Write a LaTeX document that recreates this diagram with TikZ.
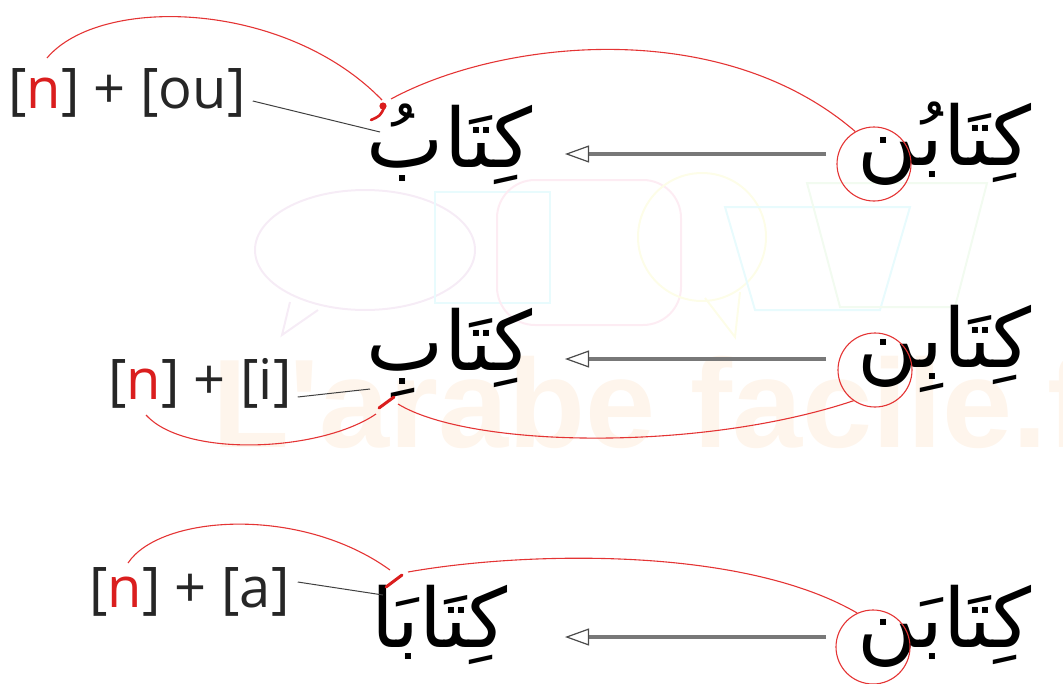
\documentclass[tikz,border=0pt]{standalone}
\usepackage{fontspec}
\setmainfont{Open Sans}
\newfontfamily\arabicfont[Script=Arabic]{DejaVu Sans}
\newfontfamily\wmfont{Liberation Sans}
\TeXXeTstate=1
\usetikzlibrary{arrows.meta}
\definecolor{redline}{RGB}{228,52,52}
\definecolor{nred}{RGB}{218,30,30}
\definecolor{convgray}{RGB}{120,120,120}
\definecolor{wmorange}{RGB}{254,245,236}
\definecolor{wmpink}{RGB}{246,236,246}
\definecolor{wmcyan}{RGB}{232,251,253}
\definecolor{wmrose}{RGB}{253,236,243}
\definecolor{wmyellow}{RGB}{253,253,232}
\definecolor{wmgreen}{RGB}{242,251,240}
\begin{document}
\begin{tikzpicture}[x=1pt,y=-1pt,
  arword/.style={font=\arabicfont\fontsize{82}{88}\selectfont, inner sep=0pt, anchor=base east},
  lbl/.style={font=\fontsize{56}{60}\selectfont, inner sep=0pt, anchor=base west, text=black!85},
  redcurve/.style={draw=redline, line width=1.1pt},
  redmark/.style={draw=nred, line width=3pt, line cap=round},
  pointer/.style={draw=black!75, line width=1pt},
  nuncircle/.style={draw=redline, line width=1.1pt, circle, minimum size=74pt, inner sep=0pt},
  conv/.style={draw=convgray, line width=3.5pt,
    -{Triangle[open, length=24pt, width=17pt, line width=1.2pt, color=black!70]}},
  wm/.style={line width=2pt}
]
\useasboundingbox (0,0) rectangle (1063,683);
% faint watermark
\begin{scope}
  \draw[wm, wmpink] (365,250) ellipse [x radius=110, y radius=60];
  \draw[wm, wmpink] (290,302) -- (282,335) -- (318,310);
  \draw[wm, wmcyan] (435,192) rectangle (550,303);
  \draw[wm, wmrose, rounded corners=38] (497,180) rectangle (681,325);
  \draw[wm, wmyellow] (702,237) ellipse [x radius=64, y radius=64];
  \draw[wm, wmyellow] (705,298) -- (735,337) -- (740,292);
  \draw[wm, wmcyan] (725,207) -- (910,207) -- (880,310) -- (755,310) -- cycle;
  \draw[wm, wmgreen] (807,183) -- (987,183) -- (955,307) -- (840,307) -- cycle;
  \node[font=\wmfont\bfseries\fontsize{126}{130}\selectfont, text=wmorange, anchor=base west, inner sep=0pt] (wmtext) at (212,447) {L'arabe facile.fr};
\end{scope}

% ---------- row 1 ----------
\node[arword] (w1r) at (1032,165) {\beginR كِتَابُن\endR};
\node[arword] (w1l) at (533,167) {\beginR كِتَابُ\endR};
\node[lbl] (l1) at (8,108) {[{\color{nred}n}] + [ou]};
\node[nuncircle] (c1) at (874,164) {};
\coordinate (a1s) at (826,154);
\coordinate (a1e) at (565,154);
\draw[conv] (a1s) -- (a1e);
\coordinate (n1) at (47,58);
\coordinate (m1a) at (382,100);
\coordinate (m1b) at (391,99);
\coordinate (p1) at (380,132);
\draw[redcurve] (n1) .. controls (100,-5) and (285,0) .. (m1a);
\draw[redcurve] (m1b) .. controls (500,40) and (720,15) .. (c1.120);
\draw[pointer] ([xshift=7pt,yshift=7pt]l1.base east) -- (p1);
\fill[nred] (383,106) circle (3.6pt);
\draw[redmark, line width=2.6pt] (384,108) .. controls (380,116) .. (371,120);

% ---------- row 2 ----------
\node[arword] (w2r) at (1032,367) {\beginR كِتَابِن\endR};
\node[arword] (w2l) at (533,370) {\beginR كِتَابِ\endR};
\node[lbl] (l2) at (108,399) {[{\color{nred}n}] + [i]};
\node[nuncircle] (c2) at (875,370) {};
\coordinate (a2s) at (826,359);
\coordinate (a2e) at (565,359);
\draw[conv] (a2s) -- (a2e);
\coordinate (n2) at (146,415);
\coordinate (m2a) at (376,414);
\coordinate (m2b) at (398,404);
\coordinate (p2) at (370,389);
\draw[redcurve] (n2) .. controls (185,458) and (320,452) .. (m2a);
\draw[redcurve] (m2b) .. controls (470,448) and (700,452) .. (c2.235);
\draw[pointer] ([xshift=6pt,yshift=2pt]l2.base east) -- (p2);
\draw[redmark] (379,408) -- (394,397);

% ---------- row 3 ----------
\node[arword] (w3r) at (1032,647) {\beginR كِتَابَن\endR};
\node[arword] (w3l) at (508,647) {\beginR كِتَابَا\endR};
\node[lbl] (l3) at (89,607) {[{\color{nred}n}] + [a]};
\node[nuncircle] (c3) at (873,647) {};
\coordinate (a3s) at (826,637);
\coordinate (a3e) at (565,637);
\draw[conv] (a3s) -- (a3e);
\coordinate (n3) at (128,563);
\coordinate (m3a) at (390,570);
\coordinate (m3b) at (408,572);
\coordinate (p3) at (383,595);
\draw[redcurve] (n3) .. controls (160,515) and (300,505) .. (m3a);
\draw[redcurve] (m3b) .. controls (520,552) and (740,545) .. (c3.115);
\draw[pointer] ([xshift=8pt,yshift=25pt]l3.base east) -- (p3);
\draw[redmark] (386,587) -- (402,575);
\end{tikzpicture}
\end{document}
